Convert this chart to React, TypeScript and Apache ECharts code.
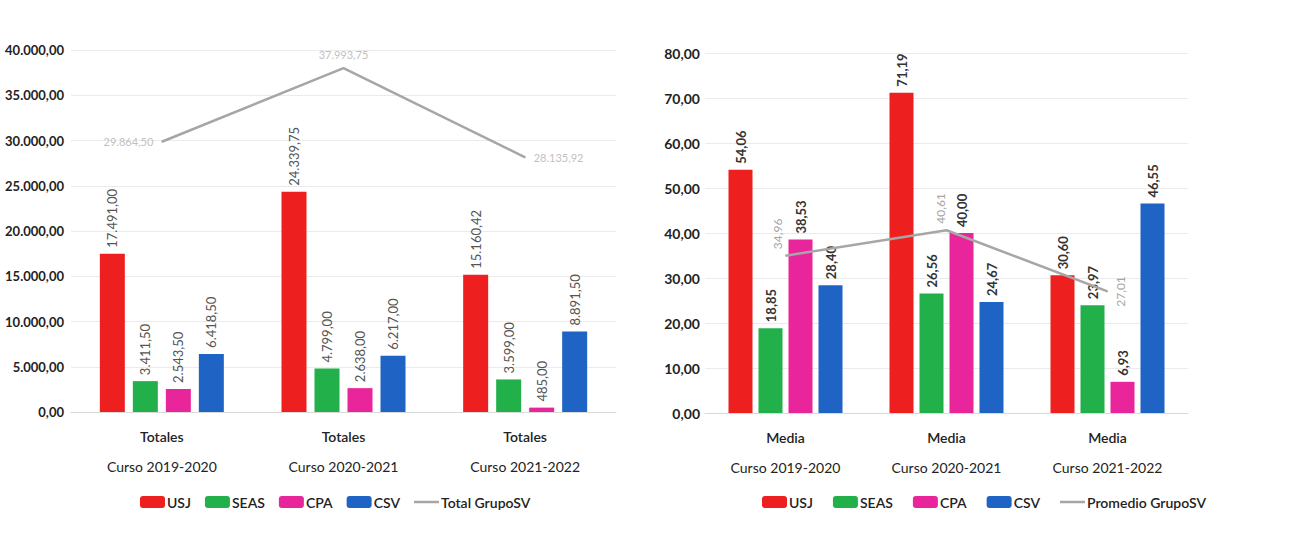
import React, { useEffect, useRef } from "react";
import * as echarts from "echarts";

const courses = ["Curso 2019-2020", "Curso 2020-2021", "Curso 2021-2022"];
const leftGroupLabel = "Totales";
const rightGroupLabel = "Media";

const totUSJ = [17491, 24339.75, 15160.42];
const totSEAS = [3411.5, 4799, 3599];
const totCPA = [2543.5, 2638, 485];
const totCSV = [6418.5, 6217, 8891.5];
const totGrupo = [29864.5, 37993.75, 28135.92];

const medUSJ = [54.06, 71.19, 30.6];
const medSEAS = [18.85, 26.56, 23.97];
const medCPA = [38.53, 40.0, 6.93];
const medCSV = [28.4, 24.67, 46.55];
const medGrupo = [34.96, 40.61, 27.01];

const COLORS = { USJ: "#ee1f1f", SEAS: "#22b04b", CPA: "#e9259b", CSV: "#1f63c4", LINE: "#a9a5a5" };
const FONT = "Lato, 'Open Sans', sans-serif";
const LINE_ICON = "path://M0,0H25V2.5H0Z";

function fmt(v: number): string {
  const s = Math.abs(v).toFixed(2);
  const [i, d] = s.split(".");
  const withSep = i.replace(/\B(?=(\d{3})+(?!\d))/g, ".");
  return (v < 0 ? "-" : "") + withSep + "," + d;
}

export default function App() {
  const ref = useRef<HTMLDivElement>(null);
  useEffect(() => {
    if (!ref.current) return;
    const chart = echarts.init(ref.current, undefined, { renderer: "svg" });

    const barLabel = (bold: boolean) => ({
      show: true,
      position: "top",
      rotate: 90,
      align: "left",
      verticalAlign: "middle",
      distance: 6,
      fontFamily: FONT,
      fontSize: 13,
      fontWeight: bold ? "bold" : "normal",
      color: bold ? "#333" : "#555",
      formatter: (p: any) => fmt(p.value),
    });

    const xAxisCommon = (group: string, gi: number) => ({
      type: "category",
      gridIndex: gi,
      data: courses,
      axisTick: { show: false },
      axisLine: { lineStyle: { color: "#d9d9d9" } },
      axisLabel: {
        margin: 9,
        interval: 0,
        formatter: (v: string) => `{a|${group}}\n{b|${v}}`,
        rich: {
          a: { fontFamily: FONT, fontSize: 14, color: "#222", lineHeight: 30, fontWeight: 600 },
          b: { fontFamily: FONT, fontSize: 14, color: "#222", lineHeight: 30 },
        },
      },
    });

    const mkBars = (names: string[], arrs: number[][], gi: number, bw: number, gap: string, bold: boolean) =>
      names.map((n, k) => ({
        name: n,
        type: "bar",
        xAxisIndex: gi,
        yAxisIndex: gi,
        data: arrs[k],
        barWidth: bw,
        barGap: gap,
        itemStyle: { color: (COLORS as any)[n] },
        label: barLabel(bold),
      }));

    const names = ["USJ", "SEAS", "CPA", "CSV"];
    const leftLinePos = ["left", "top", "right"];

    const legendCommon = {
      top: 490,
      itemWidth: 25,
      itemHeight: 12,
      textStyle: { fontFamily: FONT, fontSize: 14, fontWeight: 600, color: "#222", padding: [0, 0, 0, -3] },
    };

    const option: any = {
      animation: false,
      backgroundColor: "#ffffff",
      grid: [
        { left: 71, top: 50, width: 545, height: 362, outerBoundsMode: "none", containLabel: false },
        { left: 705, top: 53, width: 483, height: 360, outerBoundsMode: "none", containLabel: false },
      ],
      xAxis: [xAxisCommon(leftGroupLabel, 0), xAxisCommon(rightGroupLabel, 1)],
      yAxis: [
        {
          type: "value",
          gridIndex: 0,
          min: 0,
          max: 40000,
          interval: 5000,
          axisLine: { show: false },
          axisTick: { show: false },
          splitLine: { lineStyle: { color: "#ebebeb" } },
          axisLabel: { margin: 7, fontFamily: FONT, fontSize: 13, fontWeight: "bold", color: "#222", formatter: (v: number) => fmt(v) },
        },
        {
          type: "value",
          gridIndex: 1,
          min: 0,
          max: 80,
          interval: 10,
          axisLine: { show: false },
          axisTick: { show: false },
          splitLine: { lineStyle: { color: "#ebebeb" } },
          axisLabel: { margin: 5, fontFamily: FONT, fontSize: 14, fontWeight: "bold", color: "#222", formatter: (v: number) => fmt(v) },
        },
      ],
      legend: [
        {
          ...legendCommon,
          left: 135,
          itemGap: 14,
          data: ["USJ", "SEAS", "CPA", "CSV", { name: "Total GrupoSV", icon: LINE_ICON }],
        },
        {
          ...legendCommon,
          left: 757,
          itemGap: 20,
          data: ["USJ", "SEAS", "CPA", "CSV", { name: "Promedio GrupoSV", icon: LINE_ICON }],
        },
      ],
      series: [
        ...mkBars(names, [totUSJ, totSEAS, totCPA, totCSV], 0, 25, "32%", false),
        {
          name: "Total GrupoSV",
          type: "line",
          xAxisIndex: 0,
          yAxisIndex: 0,
          symbol: "circle",
          symbolSize: 1,
          showSymbol: true,
          z: 5,
          lineStyle: { color: COLORS.LINE, width: 2.5 },
          itemStyle: { color: COLORS.LINE },
          data: totGrupo.map((v, i) => ({
            value: v,
            label: {
              show: true,
              position: leftLinePos[i],
              distance: 8,
              fontFamily: FONT,
              fontSize: 11,
              color: "#c4c0c0",
              formatter: (p: any) => fmt(p.value),
            },
          })),
        },
        ...mkBars(names, [medUSJ, medSEAS, medCPA, medCSV], 1, 24, "25%", true),
        {
          name: "Promedio GrupoSV",
          type: "line",
          xAxisIndex: 1,
          yAxisIndex: 1,
          symbol: "circle",
          symbolSize: 1,
          showSymbol: true,
          z: 5,
          lineStyle: { color: COLORS.LINE, width: 2.5 },
          itemStyle: { color: COLORS.LINE },
          data: medGrupo.map((v, i) => ({
            value: v,
            label:
              i < 2
                ? {
                    show: true,
                    position: "top",
                    rotate: 90,
                    align: "left",
                    verticalAlign: "middle",
                    distance: 6,
                    offset: [0, i === 0 ? -8 : -6],
                    fontFamily: FONT,
                    fontSize: 12,
                    color: "#a8a4a4",
                    formatter: (p: any) => fmt(p.value),
                  }
                : {
                    show: true,
                    position: "right",
                    rotate: 90,
                    align: "center",
                    verticalAlign: "middle",
                    distance: 12,
                    fontFamily: FONT,
                    fontSize: 12,
                    color: "#a8a4a4",
                    formatter: (p: any) => fmt(p.value),
                  },
          })),
        },
      ],
    };

    chart.setOption(option);
    return () => chart.dispose();
  }, []);

  return <div ref={ref} style={{ position: "absolute", left: 0, top: 0, width: 1290, height: 545 }} />;
}
